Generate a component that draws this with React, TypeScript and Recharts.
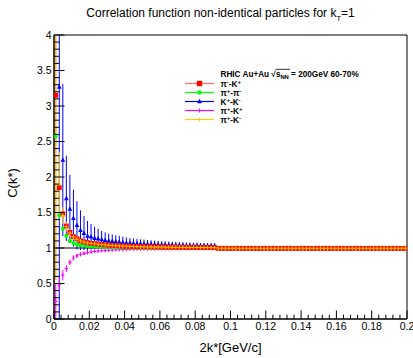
import React from 'react';
import { ComposedChart, Scatter, XAxis, YAxis, ErrorBar, ReferenceLine, ReferenceArea } from 'recharts';

const FONT = '"Liberation Sans", Arial, Helvetica, sans-serif';

// Histogram binning (bin width 0.002 in 2k*)
const BIN_WIDTH = 0.002;
const FIRST_CENTER = 0.001;
const Y_MIN = 0;
const Y_MAX = 4;

// Tick labels
const xMajorTicks = [0, 0.02, 0.04, 0.06, 0.08, 0.1, 0.12, 0.14, 0.16, 0.18, 0.2];
const yMajorTicks = [0, 0.5, 1, 1.5, 2, 2.5, 3, 3.5, 4];
const X_SUBDIV = 5;
const Y_SUBDIV = 5;

// pi- K+ (red squares), 100 bins
const redY = [
  3.15, 1.85, 1.48, 1.31, 1.22, 1.16, 1.13, 1.1, 1.085, 1.075,
  1.065, 1.06, 1.055, 1.05, 1.045, 1.04, 1.037, 1.034, 1.031, 1.028,
  1.026, 1.024, 1.022, 1.02, 1.019, 1.018, 1.017, 1.016, 1.015, 1.014,
  1.013, 1.012, 1.012, 1.011, 1.01, 1.01, 1.009, 1.009, 1.008, 1.008,
  1.007, 1.007, 1.006, 1.006, 1.006, 1.005, 0.996, 0.995, 0.996, 0.994,
  0.995, 0.996, 0.995, 0.994, 0.995, 0.996, 0.995, 0.995, 0.994, 0.996,
  0.995, 0.995, 0.996, 0.994, 0.995, 0.995, 0.996, 0.995, 0.994, 0.995,
  0.996, 0.995, 0.995, 0.994, 0.996, 0.995, 0.995, 0.996, 0.994, 0.995,
  0.995, 0.996, 0.995, 0.994, 0.995, 0.996, 0.995, 0.995, 0.994, 0.996,
  0.995, 0.995, 0.996, 0.994, 0.995, 0.995, 0.996, 0.995, 0.994, 0.995,
];
const redErr = [
  2.6, 0.2, 0.08, 0.06, 0.05, 0.04, 0.035, 0.03, 0.028, 0.026,
  0.024, 0.022, 0.02, 0.019, 0.018, 0.017, 0.016, 0.015, 0.014, 0.013,
  0.012, 0.012, 0.011, 0.011, 0.01, 0.01, 0.01, 0.009, 0.009, 0.009,
  0.008, 0.008, 0.008, 0.008, 0.007, 0.007, 0.007, 0.007, 0.007, 0.006,
  0.006, 0.006, 0.006, 0.006, 0.006, 0.006, 0.006, 0.006, 0.006, 0.006,
  0.006, 0.006, 0.006, 0.006, 0.006, 0.006, 0.006, 0.006, 0.006, 0.006,
  0.006, 0.006, 0.006, 0.006, 0.006, 0.006, 0.006, 0.006, 0.006, 0.006,
  0.006, 0.006, 0.006, 0.006, 0.006, 0.006, 0.006, 0.006, 0.006, 0.006,
  0.006, 0.006, 0.006, 0.006, 0.006, 0.006, 0.006, 0.006, 0.006, 0.006,
  0.006, 0.006, 0.006, 0.006, 0.006, 0.006, 0.006, 0.006, 0.006, 0.006,
];

// pi+ pi- (green circles), 46 bins
const greenY = [
  2.58, 1.46, 1.27, 1.17, 1.1, 1.07, 1.05, 1.04, 1.035, 1.03,
  1.025, 1.022, 1.02, 1.018, 1.016, 1.014, 1.012, 1.011, 1.01, 1.009,
  1.008, 1.007, 1.006, 1.006, 1.005, 1.005, 1.004, 1.004, 1.003, 1.003,
  1.003, 1.002, 1.002, 1.002, 1.001, 1.001, 1.001, 1.0, 1.0, 1.0,
  1.0, 1.0, 0.999, 0.999, 0.999, 0.999,
];
const greenErr = [
  0.12, 0.05, 0.03, 0.02, 0.015, 0.012, 0.01, 0.009, 0.008, 0.008,
  0.007, 0.007, 0.006, 0.006, 0.006, 0.005, 0.005, 0.005, 0.005, 0.005,
  0.005, 0.005, 0.005, 0.005, 0.005, 0.005, 0.005, 0.005, 0.005, 0.005,
  0.005, 0.005, 0.005, 0.005, 0.005, 0.005, 0.005, 0.005, 0.005, 0.005,
  0.005, 0.005, 0.005, 0.005, 0.005, 0.005,
];

// K+ K- (blue triangles), bins 1..45
const BLUE_START_BIN = 1;
const blueY = [
  3.27, 2.24, 1.7, 1.55, 1.42, 1.32, 1.25, 1.21, 1.17, 1.16,
  1.14, 1.13, 1.12, 1.11, 1.1, 1.095, 1.09, 1.085, 1.08, 1.075,
  1.07, 1.068, 1.065, 1.062, 1.06, 1.057, 1.055, 1.052, 1.05, 1.048,
  1.046, 1.044, 1.042, 1.04, 1.039, 1.038, 1.036, 1.035, 1.034, 1.033,
  1.032, 1.031, 1.03, 1.03, 1.03,
];
const blueErr = [
  3.6, 1.07, 0.6, 0.48, 0.4, 0.34, 0.28, 0.24, 0.21, 0.18,
  0.16, 0.14, 0.12, 0.11, 0.1, 0.095, 0.09, 0.085, 0.08, 0.075,
  0.07, 0.066, 0.063, 0.06, 0.058, 0.056, 0.054, 0.052, 0.05, 0.049,
  0.048, 0.047, 0.046, 0.045, 0.044, 0.043, 0.042, 0.041, 0.04, 0.04,
  0.039, 0.038, 0.038, 0.037, 0.037,
];

// pi+ K+ (magenta), 46 bins
const magentaY = [
  0.25, 0.48, 0.62, 0.71, 0.8, 0.86, 0.89, 0.91, 0.925, 0.935,
  0.945, 0.951, 0.957, 0.961, 0.965, 0.968, 0.971, 0.974, 0.976, 0.978,
  0.98, 0.982, 0.983, 0.984, 0.985, 0.986, 0.987, 0.988, 0.988, 0.989,
  0.989, 0.99, 0.99, 0.991, 0.991, 0.991, 0.992, 0.992, 0.992, 0.993,
  0.993, 0.993, 0.993, 0.994, 0.994, 0.994,
];
const magentaErr = [
  0.25, 0.1, 0.07, 0.05, 0.04, 0.035, 0.03, 0.028, 0.026, 0.024,
  0.022, 0.02, 0.019, 0.018, 0.017, 0.016, 0.015, 0.015, 0.014, 0.014,
  0.013, 0.013, 0.013, 0.012, 0.012, 0.012, 0.012, 0.011, 0.011, 0.011,
  0.011, 0.011, 0.01, 0.01, 0.01, 0.01, 0.01, 0.01, 0.01, 0.01,
  0.01, 0.01, 0.01, 0.01, 0.01, 0.01,
];

// pi+ K- (orange crosses), 100 bins
const orangeY = [
  3.6, 1.9, 1.46, 1.3, 1.21, 1.155, 1.125, 1.1, 1.083, 1.073,
  1.064, 1.058, 1.053, 1.049, 1.044, 1.04, 1.036, 1.033, 1.03, 1.028,
  1.025, 1.023, 1.021, 1.02, 1.018, 1.017, 1.016, 1.015, 1.014, 1.013,
  1.013, 1.012, 1.011, 1.011, 1.01, 1.009, 1.009, 1.008, 1.008, 1.007,
  1.007, 1.006, 1.006, 1.006, 1.005, 1.005, 0.997, 0.996, 0.997, 0.996,
  0.996, 0.997, 0.996, 0.996, 0.997, 0.996, 0.996, 0.997, 0.996, 0.996,
  0.997, 0.996, 0.996, 0.997, 0.996, 0.996, 0.997, 0.996, 0.996, 0.997,
  0.996, 0.996, 0.997, 0.996, 0.996, 0.997, 0.996, 0.996, 0.997, 0.996,
  0.996, 0.997, 0.996, 0.996, 0.997, 0.996, 0.996, 0.997, 0.996, 0.996,
  0.997, 0.996, 0.996, 0.997, 0.996, 0.996, 0.997, 0.996, 0.996, 0.997,
];
const orangeErr = [
  3.05, 0.45, 0.12, 0.07, 0.05, 0.04, 0.034, 0.03, 0.027, 0.025,
  0.023, 0.021, 0.02, 0.019, 0.018, 0.017, 0.016, 0.015, 0.014, 0.013,
  0.012, 0.012, 0.011, 0.011, 0.01, 0.01, 0.01, 0.009, 0.009, 0.009,
  0.008, 0.008, 0.008, 0.008, 0.007, 0.007, 0.007, 0.007, 0.007, 0.006,
  0.006, 0.006, 0.006, 0.006, 0.006, 0.006, 0.006, 0.006, 0.006, 0.006,
  0.006, 0.006, 0.006, 0.006, 0.006, 0.006, 0.006, 0.006, 0.006, 0.006,
  0.006, 0.006, 0.006, 0.006, 0.006, 0.006, 0.006, 0.006, 0.006, 0.006,
  0.006, 0.006, 0.006, 0.006, 0.006, 0.006, 0.006, 0.006, 0.006, 0.006,
  0.006, 0.006, 0.006, 0.006, 0.006, 0.006, 0.006, 0.006, 0.006, 0.006,
  0.006, 0.006, 0.006, 0.006, 0.006, 0.006, 0.006, 0.006, 0.006, 0.006,
];

const C_RED = '#ff0000';
const C_RED_LINE = '#ff6a6a';
const C_GREEN = '#00ff00';
const C_BLUE = '#0000ff';
const C_MAGENTA = '#ff00ff';
const C_ORANGE = '#ffcc00';

// Error bars are clipped to the visible frame (as ROOT does), by limiting
// the lower/upper extent to the axis range.
function toPoints(ys: number[], errs: number[], startBin = 0) {
  return ys.map((y, i) => ({
    x: Number((FIRST_CENTER + BIN_WIDTH * (i + startBin)).toFixed(4)),
    y,
    err: [Math.min(errs[i], y - Y_MIN), Math.min(errs[i], Y_MAX - y)],
  }));
}

const redData = toPoints(redY, redErr);
const greenData = toPoints(greenY, greenErr);
const blueData = toPoints(blueY, blueErr, BLUE_START_BIN);
const magentaData = toPoints(magentaY, magentaErr);
const orangeData = toPoints(orangeY, orangeErr);

function buildTicks(majors: number[], subdiv: number) {
  const out: number[] = [];
  for (let i = 0; i < majors.length; i++) {
    out.push(majors[i]);
    if (i < majors.length - 1) {
      const step = (majors[i + 1] - majors[i]) / subdiv;
      for (let k = 1; k < subdiv; k++) out.push(Number((majors[i] + step * k).toFixed(6)));
    }
  }
  return out;
}
const xTicks = buildTicks(xMajorTicks, X_SUBDIV);
const yTicks = buildTicks(yMajorTicks, Y_SUBDIV);

const isIn = (v: number, arr: number[]) => arr.some((m) => Math.abs(m - v) < 1e-9);
const fmt = (v: number) => String(Number(v.toFixed(3)));

const XTick = (props: any) => {
  const { x, y, payload } = props;
  const v = payload.value;
  const major = isIn(v, xMajorTicks);
  const len = major ? 8.5 : 4.3;
  return (
    <g>
      <line x1={x} x2={x} y1={y} y2={y - len} stroke="#000" strokeWidth={1} />
      {major && (
        <text x={x} y={y + 10.5} textAnchor="middle" fontSize={10.5} fontFamily={FONT} fill="#000">
          {fmt(v)}
        </text>
      )}
    </g>
  );
};

const YTick = (props: any) => {
  const { x, y, payload } = props;
  const v = payload.value;
  const major = isIn(v, yMajorTicks);
  const len = major ? 10.5 : 5.3;
  return (
    <g>
      <line x1={x} x2={x + len} y1={y} y2={y} stroke="#000" strokeWidth={1} />
      {major && (
        <text x={x - 2.5} y={y + 3.8} textAnchor="end" fontSize={10.5} fontFamily={FONT} fill="#000">
          {fmt(v)}
        </text>
      )}
    </g>
  );
};

const squareShape = (color: string, s: number) => (p: any) => (
  <rect x={p.cx - s / 2} y={p.cy - s / 2} width={s} height={s} fill={color} />
);
const circleShape = (color: string, r: number) => (p: any) => <circle cx={p.cx} cy={p.cy} r={r} fill={color} />;
const triangleShape = (color: string, s: number) => (p: any) => (
  <polygon
    points={`${p.cx},${p.cy - s * 0.6} ${p.cx - s / 2},${p.cy + s * 0.4} ${p.cx + s / 2},${p.cy + s * 0.4}`}
    fill={color}
  />
);
const crossShape = (color: string, s: number) => (p: any) => (
  <g stroke={color} strokeWidth={1}>
    <line x1={p.cx - s / 2} x2={p.cx + s / 2} y1={p.cy} y2={p.cy} />
    <line x1={p.cx} x2={p.cx} y1={p.cy - s / 2} y2={p.cy + s / 2} />
  </g>
);

const legendRows = [
  { color: C_RED_LINE, marker: 'square', mcolor: C_RED, a: 'π', as: '-', b: '-K', bs: '+', y: 83.5 },
  { color: C_GREEN, marker: 'circle', mcolor: C_GREEN, a: 'π', as: '+', b: '-π', bs: '-', y: 92.5 },
  { color: C_BLUE, marker: 'triangle', mcolor: C_BLUE, a: 'K', as: '+', b: '-K', bs: '-', y: 101.5 },
  { color: C_MAGENTA, marker: 'plus', mcolor: C_MAGENTA, a: 'π', as: '+', b: '-K', bs: '+', y: 110.5 },
  { color: C_ORANGE, marker: 'plus', mcolor: C_ORANGE, a: 'π', as: '+', b: '-K', bs: '-', y: 119.5 },
];

function LegendMarker({ kind, color, cx, cy }: { kind: string; color: string; cx: number; cy: number }) {
  if (kind === 'square') return <rect x={cx - 2.7} y={cy - 2.7} width={5.4} height={5.4} fill={color} />;
  if (kind === 'circle') return <circle cx={cx} cy={cy} r={2.3} fill={color} />;
  if (kind === 'triangle')
    return <polygon points={`${cx},${cy - 2.8} ${cx - 2.4},${cy + 1.8} ${cx + 2.4},${cy + 1.8}`} fill={color} />;
  return (
    <g stroke={color} strokeWidth={1}>
      <line x1={cx - 2} x2={cx + 2} y1={cy} y2={cy} />
      <line x1={cx} x2={cx} y1={cy - 2} y2={cy + 2} />
    </g>
  );
}

function Overlay() {
  return (
    <svg width={413} height={358} style={{ position: 'absolute', left: 0, top: 0, pointerEvents: 'none' }}>
      <text x={220.5} y={16.5} textAnchor="middle" fontSize={12} fontFamily={FONT} fill="#000">
        Correlation function non-identical particles for k
        <tspan fontSize={7.5} dy={4}>T</tspan>
        <tspan dy={-4}>=1</tspan>
      </text>
      <text x={230.5} y={352} textAnchor="middle" fontSize={13} fontFamily={FONT} fill="#000">
        2k*[GeV/c]
      </text>
      <text
        x={0}
        y={0}
        transform="translate(16.5,183) rotate(-90)"
        textAnchor="middle"
        fontSize={13}
        fontFamily={FONT}
        fill="#000"
      >
        C(k*)
      </text>
      <text x={220.5} y={77} fontSize={8.2} fontWeight="bold" fontFamily={FONT} fill="#000">
        RHIC Au+Au √
        <tspan>s</tspan>
        <tspan fontSize={5.8} dy={2}>NN</tspan>
        <tspan dy={-2}> = 200GeV 60-70%</tspan>
      </text>
      <line x1={275.5} x2={290} y1={69.3} y2={69.3} stroke="#000" strokeWidth={0.8} />
      {legendRows.map((r, i) => (
        <g key={i}>
          <line x1={185} x2={214} y1={r.y} y2={r.y} stroke={r.color} strokeWidth={1.2} />
          <LegendMarker kind={r.marker} color={r.mcolor} cx={199.5} cy={r.y} />
          <text x={220.5} y={r.y + 3} fontSize={8.2} fontWeight="bold" fontFamily={FONT} fill="#000">
            {r.a}
            <tspan fontSize={6} dy={-3}>{r.as}</tspan>
            <tspan fontSize={8.2} dy={3}>{r.b}</tspan>
            <tspan fontSize={6} dy={-3}>{r.bs}</tspan>
          </text>
        </g>
      ))}
    </svg>
  );
}

export default function App() {
  return (
    <div style={{ position: 'absolute', left: 0, top: 0, width: 413, height: 358, background: '#fff' }}>
      <ComposedChart width={413} height={358} margin={{ top: 35, right: 6, bottom: 0, left: 0 }}>
        <ReferenceArea x1={0} x2={0.2} y1={0} y2={4} fill="none" stroke="#000" strokeWidth={1} ifOverflow="visible" />
        <XAxis
          type="number"
          dataKey="x"
          domain={[0, 0.2]}
          ticks={xTicks}
          interval={0}
          height={39}
          tickLine={false}
          tickSize={0}
          tickMargin={0}
          tick={<XTick />}
          axisLine={{ stroke: '#000' }}
          allowDataOverflow
        />
        <YAxis
          type="number"
          dataKey="y"
          domain={[Y_MIN, Y_MAX]}
          ticks={yTicks}
          interval={0}
          width={54}
          tickLine={false}
          tickSize={0}
          tickMargin={0}
          tick={<YTick />}
          axisLine={{ stroke: '#000' }}
          allowDataOverflow
        />
        <ReferenceLine y={1} stroke="#000" strokeWidth={1} />
        <Scatter data={blueData} isAnimationActive={false} shape={triangleShape(C_BLUE, 4.6)}>
          <ErrorBar dataKey="err" direction="y" width={0} stroke={C_BLUE} strokeWidth={1} />
        </Scatter>
        <Scatter data={magentaData} isAnimationActive={false} shape={crossShape(C_MAGENTA, 3.5)}>
          <ErrorBar dataKey="err" direction="y" width={0} stroke={C_MAGENTA} strokeWidth={1} />
        </Scatter>
        <Scatter data={greenData} isAnimationActive={false} shape={circleShape(C_GREEN, 2.1)}>
          <ErrorBar dataKey="err" direction="y" width={0} stroke={C_GREEN} strokeWidth={1} />
        </Scatter>
        <Scatter data={redData} isAnimationActive={false} shape={squareShape(C_RED, 4.8)}>
          <ErrorBar dataKey="err" direction="y" width={0} stroke={C_RED_LINE} strokeWidth={1} />
        </Scatter>
        <Scatter data={orangeData} isAnimationActive={false} shape={crossShape(C_ORANGE, 4)}>
          <ErrorBar dataKey="err" direction="y" width={0} stroke={C_ORANGE} strokeWidth={1} />
        </Scatter>
      </ComposedChart>
      <Overlay />
    </div>
  );
}
